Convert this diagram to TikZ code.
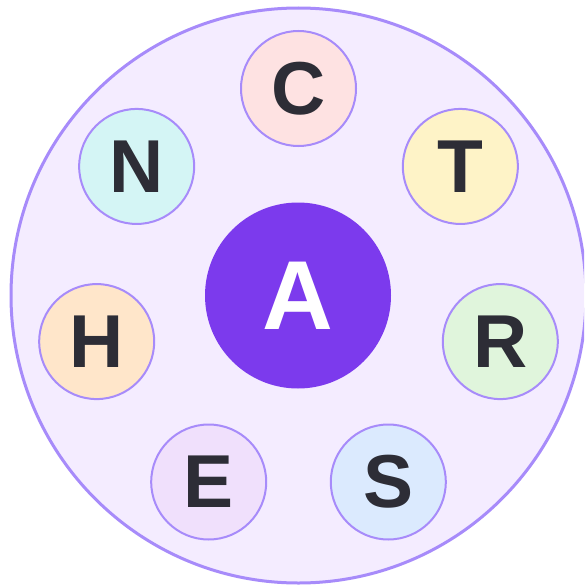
\documentclass[tikz,border=0pt]{standalone}
\usepackage{fontspec}
\setmainfont{Liberation Sans}
\usetikzlibrary{calc}
\definecolor{ringstroke}{HTML}{A78BFA}
\definecolor{bigfill}{HTML}{F4ECFF}
\definecolor{afill}{HTML}{7C3AED}
\definecolor{ink}{HTML}{2D2D36}
\definecolor{cfill}{HTML}{FEE2E2}
\definecolor{tfill}{HTML}{FEF3C7}
\definecolor{rfill}{HTML}{E0F5DC}
\definecolor{sfill}{HTML}{DBEAFE}
\definecolor{efill}{HTML}{F0E0FC}
\definecolor{hfill}{HTML}{FFE6CA}
\definecolor{nfill}{HTML}{D4F5F5}
\tikzset{
  orbit/.style={circle, draw=ringstroke, line width=2pt, minimum size=115pt, inner sep=0pt,
    font=\fontsize{75}{75}\selectfont\bfseries, text=ink},
  hub/.style={circle, fill=afill, minimum size=186pt, inner sep=0pt,
    font=\fontsize{98}{98}\selectfont\bfseries, text=white},
  outer/.style={draw=ringstroke, fill=bigfill, line width=3pt}
}
\begin{document}
\begin{tikzpicture}[x=1pt,y=1pt]
\useasboundingbox (0,0) rectangle (584,-586);
\clip (0,0) rectangle (584,-586);
\coordinate (O) at (298.5,-295.5);
\path[outer] (O) circle (287.5);
\node[hub] (A) at (298,-295.5) {A};
\node[orbit, fill=cfill] (C) at ($(O)+(90:207)$) {C};
\node[orbit, fill=tfill] (T) at ($(O)+(38.57:207)$) {T};
\node[orbit, fill=rfill] (R) at ($(O)+(-12.86:207)$) {R};
\node[orbit, fill=sfill] (S) at ($(O)+(-64.29:207)$) {S};
\node[orbit, fill=efill] (E) at ($(O)+(-115.71:207)$) {E};
\node[orbit, fill=hfill] (H) at ($(O)+(-167.14:207)$) {H};
\node[orbit, fill=nfill] (N) at ($(O)+(141.43:207)$) {N};
\end{tikzpicture}
\end{document}
